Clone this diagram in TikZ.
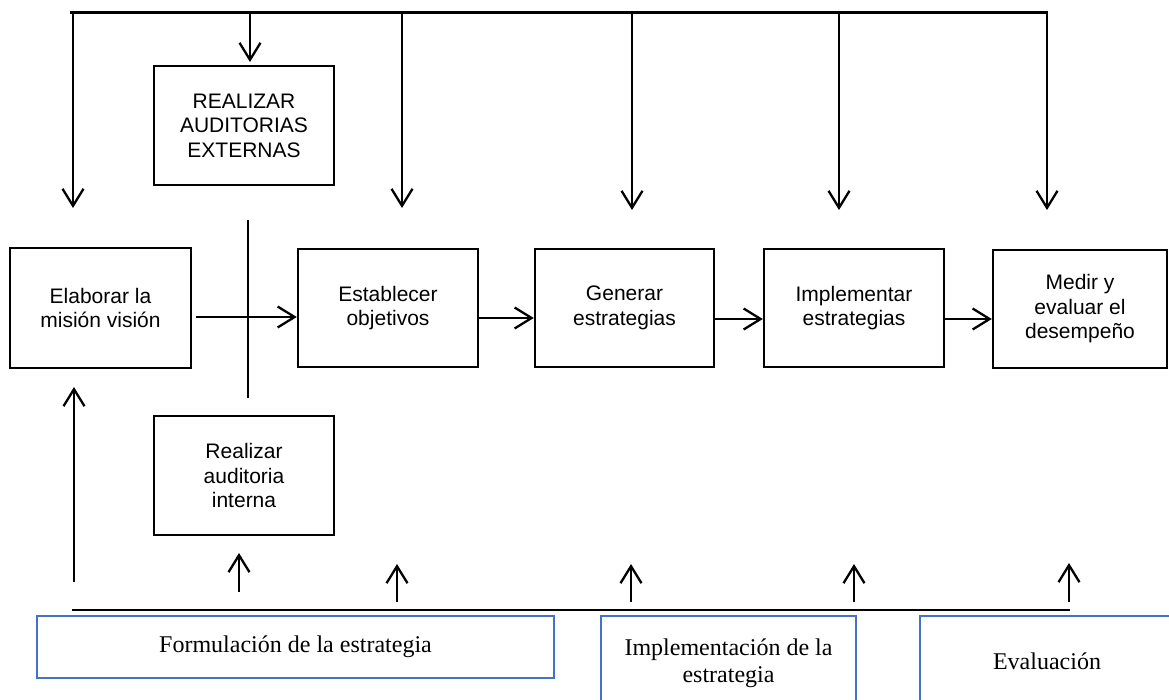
\documentclass[tikz,border=0pt]{standalone}
\usepackage{fontspec}
\setmainfont{Liberation Sans}
\newfontfamily\timesf{Liberation Serif}
\usetikzlibrary{arrows.meta}
\definecolor{blueline}{HTML}{4472C4}
\begin{document}
\begin{tikzpicture}[x=1pt,y=-1pt,
  box/.style={draw, line width=2.4pt, minimum width=180pt, minimum height=119pt, align=center,
    font=\fontsize{21}{24.5}\selectfont, inner sep=0pt},
  bluebox/.style={draw=blueline, line width=2.4pt, align=center,
    font=\timesf\fontsize{24}{27}\selectfont, inner sep=0pt},
  arr/.style={line width=2.3pt, -{Straight Barb[length=17pt,width=21pt]}},
  ln/.style={line width=2.4pt}]
\path[use as bounding box] (0,0) rectangle (1169,700);
\clip (0,0) rectangle (1169,700);

% process boxes
\node[box, minimum width=181pt, minimum height=120pt] (mision) at (100.5,308) {Elaborar la\\misión visión};
\node[box] (ext) at (244,125.5) {REALIZAR\\AUDITORIAS\\EXTERNAS};
\node[box, minimum height=118pt] (obj) at (388,308) {Establecer\\objetivos};
\node[box, minimum width=179pt, minimum height=118pt] (gen) at (624.5,308) {Generar\\estrategias};
\node[box, minimum height=118pt] (imp) at (854,308) {Implementar\\estrategias};
\node[box, minimum width=174pt, minimum height=118pt] (med) at (1080,309) {Medir y\\evaluar el\\desempeño};
\node[box] (int) at (244,475.5) {Realizar\\auditoria\\interna};

% phase boxes
\node[bluebox, minimum width=517pt, minimum height=62pt] (form) at (295.5,647) {Formulación de la estrategia};
\node[bluebox, minimum width=255pt, minimum height=94pt] (impl) at (728.5,663) {Implementación de la\\estrategia};
\node[bluebox, minimum width=254pt, minimum height=90pt] (eval) at (1047,661) {Evaluación};

% top bus
\coordinate (tl) at (70,12.5);
\coordinate (tr) at (1048,12.5);
\draw[ln] (tl) -- (tr);
\coordinate (t1) at (73,12.5);   \coordinate (e1) at (73,208);
\coordinate (t2) at (250,12.5);  \coordinate (e2) at (250,62);
\coordinate (t3) at (402,12.5);  \coordinate (e3) at (402,208);
\coordinate (t4) at (632,12.5);  \coordinate (e4) at (632,210);
\coordinate (t5) at (839,12.5);  \coordinate (e5) at (839,210);
\coordinate (t6) at (1047,12.5); \coordinate (e6) at (1047,210);
\foreach \i in {1,...,6} {\draw[arr] (t\i) -- (e\i);}

% vertical separator line
\coordinate (v1) at (248,220);
\coordinate (v2) at (248,398);
\draw[ln] (v1) -- (v2);

% main flow
\draw[arr] ([xshift=4pt,yshift=-9pt]mision.east) -- ([yshift=-9pt]obj.west);
\draw[arr] ([yshift=-10pt]obj.east) -- ([yshift=-10pt]gen.west);
\draw[arr] ([yshift=-11pt]gen.east) -- ([yshift=-11pt]imp.west);
\draw[arr] ([yshift=-11pt]imp.east) -- ([yshift=-10pt]med.west);

% bottom bus
\coordinate (bl) at (72,610);
\coordinate (br) at (1070,610);
\draw[ln] (bl) -- (br);
\coordinate (b1) at (74,582);   \coordinate (u1) at (74,387);
\coordinate (b2) at (239,592);  \coordinate (u2) at (239,553);
\coordinate (b3) at (397,602);  \coordinate (u3) at (397,564);
\coordinate (b4) at (631,602);  \coordinate (u4) at (631,564);
\coordinate (b5) at (854,602);  \coordinate (u5) at (854,564);
\coordinate (b6) at (1069,602); \coordinate (u6) at (1069,563);
\foreach \i in {1,...,6} {\draw[arr] (b\i) -- (u\i);}
\end{tikzpicture}
\end{document}
